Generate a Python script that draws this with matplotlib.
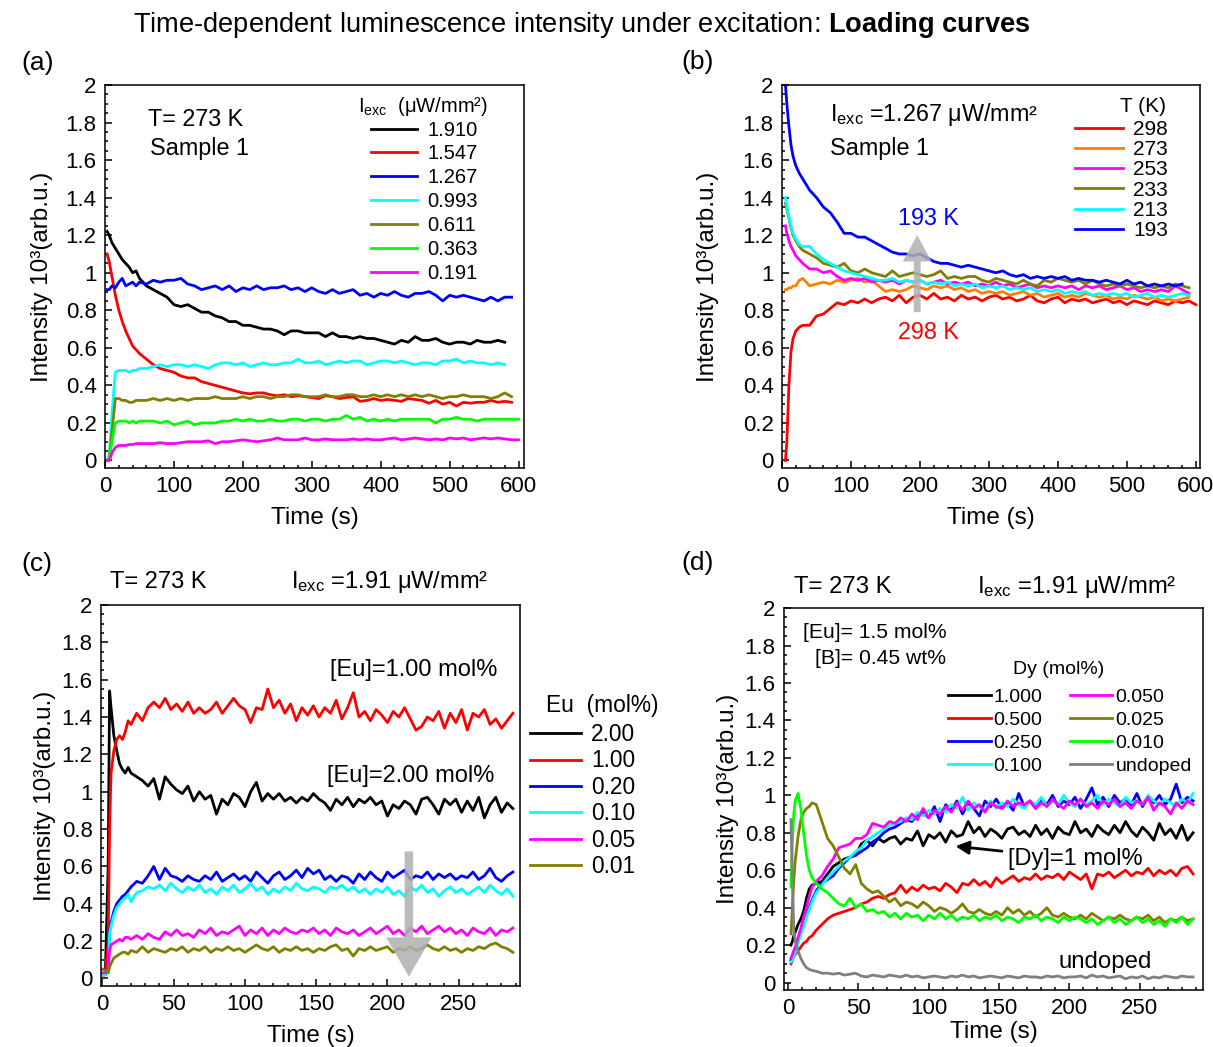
import numpy as np
import matplotlib
matplotlib.use('Agg')
import matplotlib.pyplot as plt
from matplotlib.ticker import MultipleLocator, FormatStrFormatter

plt.rcParams['font.family'] = ['Liberation Sans', 'DejaVu Sans']
plt.rcParams['mathtext.fontset'] = 'custom'
plt.rcParams['mathtext.rm'] = 'Liberation Sans'
plt.rcParams['mathtext.it'] = 'Liberation Sans:italic'
plt.rcParams['mathtext.bf'] = 'Liberation Sans:bold'

nan = np.nan

# ---------------- panel (a): excitation power, T = 273 K ----------------
t_a = [3, 6, 10, 15, 20, 25, 30, 35, 40, 45, 50] + list(range(60, 601, 10))
labels_a = ['1.910', '1.547', '1.267', '0.993', '0.611', '0.363', '0.191']
colors_a = ['black', '#ff0000', '#0000ff', '#00ffff', '#808000', '#00ff00', '#ff00ff']
a_1910 = [1.22, 1.20, 1.16, 1.13, 1.10, 1.07, 1.05, 1.03, 1.00, 1.01, 0.97,
          0.93, 0.91, 0.89, 0.87, 0.83, 0.82, 0.83, 0.81, 0.79, 0.79,
          0.77, 0.76, 0.74, 0.74, 0.72, 0.72, 0.71, 0.70, 0.70, 0.69,
          0.67, 0.69, 0.69, 0.68, 0.68, 0.68, 0.66, 0.68, 0.66, 0.66,
          0.65, 0.66, 0.65, 0.65, 0.64, 0.63, 0.62, 0.64, 0.63, 0.66,
          0.64, 0.64, 0.65, 0.63, 0.62, 0.63, 0.63, 0.62, 0.64, 0.63,
          0.63, 0.64, 0.63, nan, nan]
a_1547 = [1.10, 1.06, 0.98, 0.88, 0.80, 0.74, 0.69, 0.65, 0.61, 0.59, 0.57,
          0.54, 0.51, 0.49, 0.48, 0.47, 0.45, 0.44, 0.44, 0.42, 0.41,
          0.40, 0.39, 0.38, 0.37, 0.36, 0.355, 0.36, 0.36, 0.35, 0.345,
          0.35, 0.34, 0.345, 0.34, 0.335, 0.33, 0.345, 0.34, 0.33, 0.335,
          0.34, 0.315, 0.32, 0.33, 0.32, 0.325, 0.32, 0.315, 0.33, 0.325,
          0.32, 0.305, 0.32, 0.30, 0.31, 0.29, 0.31, 0.305, 0.31, 0.31,
          0.32, 0.31, 0.315, 0.31, nan]
a_1267 = [0.91, 0.91, 0.93, 0.92, 0.95, 0.97, 0.93, 0.94, 0.95, 0.93, 0.95,
          0.94, 0.96, 0.95, 0.96, 0.96, 0.97, 0.94, 0.93, 0.91, 0.92,
          0.93, 0.91, 0.93, 0.90, 0.92, 0.91, 0.93, 0.91, 0.92, 0.92,
          0.93, 0.91, 0.92, 0.90, 0.92, 0.90, 0.89, 0.91, 0.89, 0.90,
          0.91, 0.88, 0.89, 0.87, 0.89, 0.88, 0.90, 0.88, 0.87, 0.89,
          0.89, 0.90, 0.88, 0.85, 0.88, 0.87, 0.88, 0.87, 0.86, 0.85,
          0.87, 0.85, 0.87, 0.87, nan]
a_0993 = [0.0, 0.02, 0.25, 0.47, 0.48, 0.48, 0.48, 0.47, 0.48, 0.48, 0.49,
          0.49, 0.50, 0.51, 0.50, 0.51, 0.51, 0.50, 0.51, 0.50, 0.49,
          0.51, 0.52, 0.52, 0.51, 0.52, 0.50, 0.51, 0.52, 0.51, 0.51,
          0.52, 0.52, 0.54, 0.52, 0.52, 0.53, 0.51, 0.52, 0.53, 0.52,
          0.53, 0.53, 0.51, 0.52, 0.53, 0.53, 0.52, 0.53, 0.52, 0.51,
          0.52, 0.52, 0.51, 0.53, 0.53, 0.54, 0.52, 0.53, 0.52, 0.52,
          0.51, 0.52, 0.51, nan, nan]
a_0611 = [0.0, 0.01, 0.15, 0.33, 0.33, 0.32, 0.32, 0.31, 0.31, 0.32, 0.32,
          0.32, 0.33, 0.32, 0.33, 0.32, 0.33, 0.32, 0.33, 0.33, 0.33,
          0.34, 0.33, 0.33, 0.33, 0.34, 0.33, 0.34, 0.34, 0.33, 0.34,
          0.34, 0.35, 0.35, 0.34, 0.34, 0.34, 0.35, 0.34, 0.34, 0.35,
          0.35, 0.34, 0.34, 0.35, 0.34, 0.35, 0.34, 0.35, 0.34, 0.35,
          0.34, 0.35, 0.34, 0.33, 0.34, 0.34, 0.35, 0.34, 0.34, 0.34,
          0.33, 0.34, 0.36, 0.34, nan]
a_0363 = [0.0, 0.0, 0.10, 0.20, 0.21, 0.21, 0.21, 0.20, 0.21, 0.20, 0.21,
          0.21, 0.21, 0.20, 0.21, 0.19, 0.20, 0.21, 0.19, 0.20, 0.20,
          0.20, 0.21, 0.21, 0.22, 0.21, 0.22, 0.21, 0.21, 0.22, 0.21,
          0.21, 0.22, 0.22, 0.21, 0.22, 0.22, 0.21, 0.22, 0.22, 0.24,
          0.22, 0.23, 0.21, 0.22, 0.21, 0.22, 0.21, 0.22, 0.22, 0.22,
          0.22, 0.22, 0.20, 0.22, 0.22, 0.23, 0.22, 0.22, 0.21, 0.22,
          0.22, 0.22, 0.22, 0.22, 0.22]
a_0191 = [0.0, 0.0, 0.04, 0.07, 0.08, 0.08, 0.08, 0.085, 0.085, 0.09, 0.09,
          0.09, 0.09, 0.095, 0.09, 0.09, 0.095, 0.10, 0.10, 0.10, 0.105,
          0.09, 0.10, 0.10, 0.105, 0.11, 0.105, 0.10, 0.105, 0.11, 0.12,
          0.11, 0.11, 0.11, 0.12, 0.11, 0.11, 0.115, 0.11, 0.11, 0.11,
          0.115, 0.11, 0.115, 0.11, 0.11, 0.115, 0.12, 0.11, 0.115, 0.12,
          0.115, 0.11, 0.115, 0.11, 0.12, 0.115, 0.12, 0.11, 0.115, 0.12,
          0.115, 0.12, 0.115, 0.11, 0.11]

# ---------------- panel (b): temperature, I = 1.267 ----------------
t_b = [5, 7, 10, 13, 16, 20, 25, 30, 40, 50] + list(range(60, 601, 10))
labels_b = ['298', '273', '253', '233', '213', '193']
colors_b = ['#ff0000', '#ff8000', '#ff00ff', '#808000', '#00ffff', '#0000ff']
b_298 = [0.0, 0.10, 0.40, 0.58, 0.65, 0.69, 0.71, 0.72, 0.72, 0.77,
         0.78, 0.81, 0.84, 0.83, 0.85, 0.84, 0.86, 0.84, 0.86, 0.87,
         0.85, 0.88, 0.84, 0.87, 0.88, 0.86, 0.89, 0.86, 0.87, 0.85,
         0.88, 0.86, 0.87, 0.85, 0.87, 0.88, 0.86, 0.87, 0.85, 0.86,
         0.88, 0.85, 0.84, 0.86, 0.87, 0.84, 0.86, 0.85, 0.86, 0.84,
         0.85, 0.86, 0.84, 0.85, 0.83, 0.85, 0.84, 0.83, 0.85, 0.84,
         0.83, 0.85, 0.84, 0.85, 0.83]
b_273 = [0.91, 0.91, 0.92, 0.92, 0.93, 0.93, 0.96, 0.97, 0.93, 0.94,
         0.95, 0.94, 0.96, 0.95, 0.96, 0.97, 0.95, 0.96, 0.93, 0.90,
         0.91, 0.90, 0.91, 0.93, 0.92, 0.91, 0.93, 0.92, 0.93, 0.91,
         0.92, 0.90, 0.91, 0.89, 0.90, 0.89, 0.90, 0.88, 0.89, 0.90,
         0.88, 0.89, 0.87, 0.88, 0.89, 0.87, 0.88, 0.87, 0.89, 0.88,
         0.87, 0.88, 0.86, 0.87, 0.86, 0.88, 0.87, 0.86, 0.87, 0.85,
         0.86, 0.85, 0.86, 0.87, nan]
b_253 = [1.25, 1.21, 1.17, 1.14, 1.12, 1.09, 1.07, 1.05, 1.02, 1.02,
         1.00, 1.01, 0.98, 0.96, 0.97, 0.96, 0.97, 0.95, 0.96, 0.95,
         0.96, 0.94, 0.96, 0.95, 0.96, 0.94, 0.95, 0.96, 0.94, 0.95,
         0.94, 0.95, 0.93, 0.94, 0.93, 0.95, 0.93, 0.94, 0.92, 0.93,
         0.94, 0.92, 0.93, 0.92, 0.93, 0.92, 0.93, 0.91, 0.93, 0.92,
         0.93, 0.91, 0.92, 0.93, 0.91, 0.92, 0.90, 0.91, 0.90, 0.91,
         0.90, 0.93, 0.91, 0.89, nan]
b_233 = [1.37, 1.34, 1.29, 1.24, 1.20, 1.17, 1.14, 1.12, 1.10, 1.08,
         1.05, 1.04, 1.03, 1.05, 1.01, 1.00, 1.02, 1.00, 0.99, 0.98,
         1.01, 0.98, 0.99, 1.00, 0.99, 0.98, 0.99, 1.01, 0.97, 0.98,
         0.97, 0.98, 0.98, 0.96, 0.95, 0.97, 0.96, 0.95, 0.94, 0.96,
         0.94, 0.93, 0.96, 0.95, 0.97, 0.96, 0.95, 0.96, 0.94, 0.96,
         0.94, 0.93, 0.94, 0.93, 0.94, 0.93, 0.92, 0.93, 0.92, 0.93,
         0.92, 0.94, 0.93, 0.92, nan]
b_213 = [1.40, 1.36, 1.30, 1.25, 1.21, 1.18, 1.15, 1.14, 1.14, 1.10,
         1.07, 1.05, 1.03, 1.01, 1.00, 0.99, 0.98, 0.97, 0.96, 0.96,
         0.97, 0.95, 0.96, 0.95, 0.96, 0.94, 0.95, 0.94, 0.95, 0.93,
         0.94, 0.93, 0.94, 0.92, 0.93, 0.92, 0.93, 0.91, 0.92, 0.91,
         0.92, 0.90, 0.91, 0.90, 0.91, 0.89, 0.90, 0.89, 0.90, 0.88,
         0.89, 0.88, 0.89, 0.88, 0.89, 0.87, 0.88, 0.89, 0.87, 0.88,
         0.87, 0.88, 0.89, 0.88, nan]
b_193 = [2.00, 1.90, 1.78, 1.68, 1.62, 1.57, 1.53, 1.50, 1.44, 1.40,
         1.35, 1.32, 1.27, 1.21, 1.21, 1.19, 1.19, 1.17, 1.15, 1.13,
         1.11, 1.10, 1.10, 1.09, 1.10, 1.08, 1.06, 1.05, 1.05, 1.04,
         1.03, 1.04, 1.03, 1.02, 1.01, 1.00, 1.01, 0.99, 0.98, 0.99,
         0.97, 0.98, 0.97, 0.98, 0.97, 0.98, 0.96, 0.97, 0.96, 0.96,
         0.95, 0.96, 0.95, 0.94, 0.96, 0.94, 0.95, 0.93, 0.94, 0.93,
         0.94, 0.93, 0.94, nan, nan]

# ---------------- panel (c): Eu content ----------------
t_c = [0, 2, 4, 5, 6, 8, 10, 12, 14, 16, 18, 20] + list(range(24, 289, 4))
labels_c = ['2.00', '1.00', '0.20', '0.10', '0.05', '0.01']
colors_c = ['black', '#ff0000', '#0000ff', '#00ffff', '#ff00ff', '#808000']
c_200 = [0.02, 0.02, 0.60, 1.54, 1.45, 1.30, 1.22, 1.15, 1.12, 1.10, 1.13, 1.10,
         1.08, 1.06, 1.03, 1.07, 0.96, 1.08, 1.04, 1.01, 0.99, 1.03,
         0.95, 1.00, 0.96, 0.98, 0.88, 0.96, 0.93, 0.99, 0.97, 0.92,
         1.00, 1.05, 0.95, 0.99, 0.96, 0.99, 0.95, 0.97, 0.94, 0.97,
         0.95, 0.99, 0.96, 0.94, 0.90, 0.96, 0.93, 0.97, 0.92, 0.96,
         0.94, 0.97, 0.93, 0.95, 0.87, 0.93, 0.91, 0.95, 0.93, 0.88,
         0.96, 0.97, 0.93, 0.88, 0.96, 0.93, 0.96, 0.89, 0.95, 0.90,
         0.97, 0.86, 0.93, 0.97, 0.89, 0.94, 0.91]
c_100 = [0.02, 0.02, 0.20, 0.80, 1.10, 1.22, 1.28, 1.30, 1.28, 1.32, 1.38, 1.36,
         1.42, 1.38, 1.45, 1.48, 1.45, 1.50, 1.44, 1.47, 1.43, 1.48,
         1.42, 1.45, 1.42, 1.44, 1.48, 1.42, 1.46, 1.50, 1.46, 1.44,
         1.37, 1.45, 1.44, 1.55, 1.45, 1.49, 1.42, 1.47, 1.38, 1.45,
         1.41, 1.46, 1.40, 1.45, 1.42, 1.49, 1.39, 1.45, 1.53, 1.40,
         1.43, 1.38, 1.44, 1.41, 1.37, 1.43, 1.40, 1.45, 1.39, 1.33,
         1.35, 1.40, 1.38, 1.43, 1.34, 1.42, 1.37, 1.44, 1.33, 1.42,
         1.40, 1.44, 1.36, 1.39, 1.34, 1.38, 1.42]
c_020 = [0.02, 0.02, 0.05, 0.25, 0.30, 0.36, 0.40, 0.42, 0.44, 0.45, 0.47, 0.49,
         0.52, 0.51, 0.55, 0.60, 0.53, 0.59, 0.55, 0.54, 0.52, 0.55,
         0.53, 0.52, 0.55, 0.53, 0.57, 0.52, 0.54, 0.56, 0.53, 0.55,
         0.52, 0.57, 0.54, 0.51, 0.55, 0.57, 0.53, 0.55, 0.58, 0.54,
         0.59, 0.56, 0.58, 0.53, 0.55, 0.52, 0.55, 0.54, 0.51, 0.56,
         0.53, 0.57, 0.54, 0.52, 0.57, 0.54, 0.56, 0.58, 0.53, 0.55,
         0.54, 0.57, 0.53, 0.56, 0.54, 0.56, 0.53, 0.55, 0.54, 0.57,
         0.53, 0.55, 0.59, 0.54, 0.52, 0.55, 0.57]
c_010 = [0.02, 0.02, 0.05, 0.24, 0.28, 0.34, 0.38, 0.40, 0.42, 0.43, 0.45, 0.41,
         0.46, 0.47, 0.49, 0.48, 0.50, 0.47, 0.51, 0.48, 0.46, 0.49,
         0.47, 0.50, 0.46, 0.48, 0.45, 0.49, 0.47, 0.50, 0.46, 0.48,
         0.51, 0.47, 0.49, 0.45, 0.48, 0.46, 0.49, 0.47, 0.51, 0.48,
         0.47, 0.49, 0.48, 0.46, 0.49, 0.48, 0.50, 0.47, 0.49, 0.46,
         0.48, 0.45, 0.48, 0.46, 0.49, 0.45, 0.47, 0.44, 0.49, 0.47,
         0.50, 0.46, 0.48, 0.44, 0.47, 0.49, 0.46, 0.48, 0.45, 0.47,
         0.49, 0.46, 0.50, 0.47, 0.45, 0.48, 0.44]
c_005 = [0.03, 0.03, 0.05, 0.15, 0.18, 0.19, 0.20, 0.21, 0.20, 0.22, 0.22, 0.21,
         0.23, 0.21, 0.24, 0.22, 0.21, 0.25, 0.23, 0.26, 0.23, 0.24,
         0.22, 0.26, 0.24, 0.27, 0.23, 0.25, 0.24, 0.26, 0.28, 0.23,
         0.26, 0.24, 0.27, 0.23, 0.26, 0.24, 0.27, 0.25, 0.24, 0.26,
         0.25, 0.27, 0.24, 0.26, 0.23, 0.27, 0.25, 0.24, 0.26, 0.23,
         0.25, 0.27, 0.24, 0.26, 0.28, 0.24, 0.26, 0.23, 0.27, 0.25,
         0.28, 0.24, 0.26, 0.28, 0.25, 0.27, 0.24, 0.26, 0.23, 0.27,
         0.25, 0.24, 0.27, 0.23, 0.26, 0.25, 0.27]
c_001 = [0.05, 0.04, 0.03, 0.06, 0.08, 0.11, 0.12, 0.13, 0.14, 0.14, 0.13, 0.15,
         0.14, 0.17, 0.14, 0.16, 0.15, 0.14, 0.16, 0.15, 0.17, 0.14,
         0.16, 0.15, 0.17, 0.14, 0.16, 0.15, 0.17, 0.15, 0.16, 0.14,
         0.16, 0.18, 0.16, 0.15, 0.17, 0.14, 0.16, 0.15, 0.17, 0.15,
         0.16, 0.14, 0.16, 0.15, 0.17, 0.18, 0.15, 0.16, 0.12, 0.16,
         0.15, 0.17, 0.15, 0.16, 0.17, 0.14, 0.16, 0.15, 0.17, 0.15,
         0.16, 0.18, 0.16, 0.15, 0.17, 0.15, 0.16, 0.14, 0.16, 0.15,
         0.17, 0.16, 0.18, 0.19, 0.17, 0.16, 0.14]

# ---------------- panel (d): Dy content ----------------
t_d = [2, 3, 4, 5, 7, 9, 11, 13, 15, 17, 20] + list(range(24, 289, 4))
labels_d = ['1.000', '0.500', '0.250', '0.100', '0.050', '0.025', '0.010', 'undoped']
colors_d = ['black', '#ff0000', '#0000ff', '#00ffff', '#ff00ff', '#808000', '#00ff00', '#808080']
d_1000 = [0.20, 0.22, 0.25, 0.27, 0.31, 0.34, 0.38, 0.45, 0.50, 0.52, 0.53,
          0.54, 0.58, 0.62, 0.64, 0.66, 0.67, 0.68, 0.74, 0.76, 0.73,
          0.77, 0.75, 0.77, 0.78, 0.74, 0.77, 0.76, 0.81, 0.73, 0.79,
          0.77, 0.80, 0.75, 0.81, 0.78, 0.79, 0.86, 0.80, 0.83, 0.78,
          0.82, 0.80, 0.77, 0.82, 0.83, 0.79, 0.81, 0.78, 0.84, 0.79,
          0.82, 0.77, 0.83, 0.80, 0.79, 0.86, 0.80, 0.82, 0.78, 0.84,
          0.81, 0.79, 0.84, 0.80, 0.86, 0.81, 0.78, 0.83, 0.80, 0.76,
          0.85, 0.79, 0.82, 0.77, 0.84, 0.76, 0.80]
d_0500 = [0.10, 0.12, 0.14, 0.15, 0.17, 0.19, 0.21, 0.22, 0.24, 0.25, 0.28,
          0.31, 0.34, 0.36, 0.37, 0.38, 0.39, 0.40, 0.42, 0.43, 0.45,
          0.46, 0.45, 0.47, 0.48, 0.52, 0.48, 0.51, 0.49, 0.52, 0.50,
          0.51, 0.49, 0.53, 0.51, 0.48, 0.53, 0.52, 0.55, 0.52, 0.54,
          0.51, 0.56, 0.53, 0.55, 0.57, 0.54, 0.56, 0.55, 0.58, 0.55,
          0.57, 0.56, 0.58, 0.55, 0.59, 0.57, 0.55, 0.58, 0.50, 0.58,
          0.57, 0.59, 0.56, 0.58, 0.60, 0.57, 0.59, 0.58, 0.61, 0.57,
          0.60, 0.58, 0.60, 0.57, 0.61, 0.62, 0.58]
d_0250 = [0.12, 0.13, 0.15, 0.17, 0.22, 0.27, 0.31, 0.36, 0.40, 0.44, 0.49,
          0.53, 0.55, 0.57, 0.61, 0.64, 0.67, 0.68, 0.70, 0.72, 0.75,
          0.77, 0.80, 0.82, 0.83, 0.85, 0.87, 0.86, 0.90, 0.91, 0.88,
          0.94, 0.86, 0.95, 0.92, 0.97, 0.90, 0.96, 0.93, 0.89, 0.97,
          0.94, 0.98, 0.93, 0.96, 0.92, 1.01, 0.94, 0.97, 0.93, 0.98,
          0.95, 1.00, 0.94, 0.97, 0.95, 0.99, 0.93, 0.98, 1.04, 0.95,
          0.99, 0.94, 1.00, 0.96, 0.98, 0.95, 1.01, 0.94, 0.99, 0.96,
          1.00, 0.95, 0.98, 1.06, 0.96, 0.99, 0.97]
d_0100 = [0.11, 0.12, 0.14, 0.16, 0.21, 0.26, 0.30, 0.35, 0.39, 0.43, 0.48,
          0.52, 0.56, 0.59, 0.62, 0.65, 0.67, 0.70, 0.72, 0.76, 0.78,
          0.80, 0.82, 0.84, 0.85, 0.86, 0.88, 0.87, 0.91, 0.89, 0.92,
          0.90, 0.93, 0.91, 0.95, 0.93, 0.99, 0.92, 0.96, 0.94, 0.92,
          0.97, 0.93, 0.96, 0.94, 0.98, 0.95, 0.93, 0.97, 0.95, 0.99,
          0.94, 0.97, 0.95, 1.00, 0.96, 0.94, 0.98, 0.95, 0.97, 1.00,
          0.95, 0.98, 0.96, 0.94, 0.99, 0.96, 0.97, 0.95, 1.00, 0.97,
          0.95, 0.98, 0.96, 0.94, 0.98, 0.96, 1.01]
d_0050 = [0.13, 0.15, 0.17, 0.19, 0.24, 0.29, 0.35, 0.40, 0.46, 0.51, 0.54,
          0.57, 0.62, 0.66, 0.72, 0.73, 0.74, 0.77, 0.77, 0.79, 0.85,
          0.84, 0.83, 0.86, 0.85, 0.88, 0.86, 0.90, 0.87, 0.93, 0.88,
          0.92, 0.90, 0.94, 0.91, 0.96, 0.92, 0.97, 0.93, 0.95, 0.91,
          0.96, 0.94, 0.93, 0.97, 0.94, 0.96, 0.95, 0.97, 0.93, 0.96,
          0.94, 0.98, 0.95, 0.93, 0.97, 0.95, 0.98, 0.94, 0.96, 0.93,
          0.97, 0.95, 0.98, 0.94, 0.96, 0.93, 0.97, 0.95, 0.99, 0.92,
          0.96, 0.94, 0.90, 0.96, 0.93, 0.97, 0.95]
d_0025 = [0.26, 0.40, 0.55, 0.65, 0.78, 0.87, 0.91, 0.93, 0.94, 0.96, 0.95,
          0.86, 0.77, 0.73, 0.67, 0.61, 0.58, 0.63, 0.53, 0.50, 0.48,
          0.49, 0.46, 0.43, 0.45, 0.41, 0.43, 0.42, 0.40, 0.43, 0.41,
          0.38, 0.40, 0.39, 0.37, 0.39, 0.42, 0.38, 0.37, 0.39, 0.37,
          0.36, 0.38, 0.36, 0.40, 0.37, 0.39, 0.36, 0.38, 0.35, 0.37,
          0.40, 0.36, 0.35, 0.37, 0.35, 0.34, 0.36, 0.34, 0.37, 0.35,
          0.33, 0.35, 0.34, 0.36, 0.34, 0.33, 0.35, 0.34, 0.36, 0.33,
          0.35, 0.32, 0.34, 0.33, 0.35, 0.33, 0.34]
d_0010 = [0.51, 0.75, 0.90, 0.97, 1.01, 0.93, 0.80, 0.68, 0.60, 0.56, 0.53,
          0.50, 0.48, 0.45, 0.42, 0.41, 0.45, 0.40, 0.42, 0.38, 0.39,
          0.37, 0.38, 0.35, 0.37, 0.34, 0.37, 0.35, 0.36, 0.33, 0.36,
          0.34, 0.37, 0.34, 0.36, 0.33, 0.35, 0.34, 0.36, 0.33, 0.35,
          0.34, 0.36, 0.33, 0.35, 0.34, 0.32, 0.35, 0.34, 0.36, 0.33,
          0.35, 0.34, 0.32, 0.35, 0.33, 0.35, 0.34, 0.32, 0.34, 0.31,
          0.33, 0.35, 0.32, 0.34, 0.31, 0.33, 0.35, 0.32, 0.34, 0.31,
          0.33, 0.30, 0.34, 0.32, 0.35, 0.31, 0.34]
d_undoped = [0.87, 0.55, 0.28, 0.22, 0.17, 0.13, 0.10, 0.08, 0.07, 0.065, 0.06,
             0.05, 0.05, 0.045, 0.05, 0.04, 0.045, 0.05, 0.035, 0.03, 0.04,
             0.035, 0.03, 0.04, 0.035, 0.03, 0.04, 0.03, 0.035, 0.025, 0.03,
             0.035, 0.03, 0.025, 0.035, 0.03, 0.04, 0.03, 0.035, 0.025, 0.03,
             0.035, 0.03, 0.025, 0.035, 0.03, 0.025, 0.035, 0.03, 0.03, 0.025,
             0.035, 0.03, 0.035, 0.025, 0.03, 0.03, 0.035, 0.025, 0.04, 0.03,
             0.035, 0.025, 0.03, 0.035, 0.02, 0.03, 0.025, 0.035, 0.02, 0.03,
             0.025, 0.035, 0.03, 0.025, 0.035, 0.03, 0.03]

series_a = [a_1910, a_1547, a_1267, a_0993, a_0611, a_0363, a_0191]
series_b = [b_298, b_273, b_253, b_233, b_213, b_193]
series_c = [c_200, c_100, c_020, c_010, c_005, c_001]
series_d = [d_1000, d_0500, d_0250, d_0100, d_0050, d_0025, d_0010, d_undoped]

TICK_FS = 16
LABEL_FS = 17.5
TEXT_FS = 16.8
LW = 2.0
ylab = 'Intensity 10³(arb.u.)'
iexc = r'I$_{\rm exc}$'


def style(ax, xmaj, xmin, xlim, ypad, xpad=7):
    ax.set_xlim(*xlim)
    ax.set_ylim(-0.04, 2.0)
    ax.xaxis.set_major_locator(MultipleLocator(xmaj))
    ax.xaxis.set_minor_locator(MultipleLocator(xmin))
    ax.yaxis.set_major_locator(MultipleLocator(0.2))
    ax.yaxis.set_minor_locator(MultipleLocator(0.05))
    ax.yaxis.set_major_formatter(FormatStrFormatter('%g'))
    ax.tick_params(which='both', direction='in', top=False, right=False,
                   labelsize=TICK_FS, width=1.1, pad=6)
    ax.tick_params(which='major', length=5)
    ax.tick_params(which='minor', length=2.5)
    for sp in ax.spines.values():
        sp.set_linewidth(1.1)
    ax.set_xlabel('Time (s)', fontsize=LABEL_FS, labelpad=xpad)
    ax.set_ylabel(ylab, fontsize=LABEL_FS, labelpad=ypad)


def legend(ax, x, y, fs, spacing, **kw):
    ax.legend(loc='upper left', bbox_to_anchor=(x, y), frameon=False, fontsize=fs,
              labelspacing=spacing, borderpad=0, borderaxespad=0, **kw)


fig = plt.figure(figsize=(12.13, 10.47), dpi=100)
ax_a = fig.add_axes([0.0866, 0.5530, 0.3454, 0.3658])
ax_b = fig.add_axes([0.6447, 0.5530, 0.3446, 0.3658])
ax_c = fig.add_axes([0.0833, 0.0583, 0.3454, 0.3639])
ax_d = fig.add_axes([0.6463, 0.0544, 0.3454, 0.3648])

fig.text(0.48, 0.976, r'Time-dependent luminescence intensity under excitation: $\bf{Loading\ curves}$',
         ha='center', va='center', fontsize=19.6)
fig.text(0.0173, 0.940, '(a)', fontsize=19, va='center')
fig.text(0.562, 0.941, '(b)', fontsize=19, va='center')
fig.text(0.0173, 0.461, '(c)', fontsize=19, va='center')
fig.text(0.562, 0.462, '(d)', fontsize=19, va='center')

# (a)
for y, lab, col in zip(series_a, labels_a, colors_a):
    ax_a.plot(t_a, y, color=col, lw=LW, label=lab)
style(ax_a, 100, 20, (0, 608), 9)
ax_a.text(0.103, 0.909, 'T= 273 K', transform=ax_a.transAxes, fontsize=TEXT_FS, va='center')
ax_a.text(0.107, 0.833, 'Sample 1', transform=ax_a.transAxes, fontsize=TEXT_FS, va='center')
ax_a.text(0.759, 0.943, iexc + '  (μW/mm²)', transform=ax_a.transAxes, fontsize=14.5,
          ha='center', va='center')
legend(ax_a, 0.635, 0.907, 14.5, 0.24, handlelength=2.3, handletextpad=0.5)

# (b)
for y, lab, col in zip(series_b, labels_b, colors_b):
    ax_b.plot(t_b, y, color=col, lw=LW, label=lab)
style(ax_b, 100, 20, (0, 606), 17)
ax_b.arrow(196, 0.79, 0, 0.41, width=10, head_width=42, head_length=0.14,
           length_includes_head=True, color='#b0b0b0', alpha=0.85, lw=0, zorder=5)
ax_b.text(212, 1.29, '193 K', color='#0000ff', fontsize=TEXT_FS, ha='center', va='center')
ax_b.text(212, 0.68, '298 K', color='#ff0000', fontsize=TEXT_FS, ha='center', va='center')
ax_b.text(0.115, 0.922, iexc + ' =1.267 μW/mm²', transform=ax_b.transAxes, fontsize=TEXT_FS, va='center')
ax_b.text(0.115, 0.833, 'Sample 1', transform=ax_b.transAxes, fontsize=TEXT_FS, va='center')
ax_b.text(0.864, 0.945, 'T (K)', transform=ax_b.transAxes, fontsize=15, ha='center', va='center')
legend(ax_b, 0.70, 0.909, 15, 0.06, handlelength=2.3, handletextpad=0.5)

# (c)
for y, lab, col in zip(series_c, labels_c, colors_c):
    ax_c.plot(t_c, y, color=col, lw=LW, label=lab)
style(ax_c, 50, 10, (-1, 293), 4)
ax_c.arrow(215, 0.68, 0, -0.67, width=6, head_width=32, head_length=0.21,
           length_includes_head=True, color='#b0b0b0', alpha=0.85, lw=0, zorder=5)
ax_c.text(0.136, 1.060, 'T= 273 K', transform=ax_c.transAxes, fontsize=17, ha='center', va='center')
ax_c.text(0.453, 1.060, iexc + ' =1.91 μW/mm²', transform=ax_c.transAxes, fontsize=17, va='center')
ax_c.text(0.947, 0.829, '[Eu]=1.00 mol%', transform=ax_c.transAxes, fontsize=17, ha='right', va='center')
ax_c.text(0.940, 0.551, '[Eu]=2.00 mol%', transform=ax_c.transAxes, fontsize=17, ha='right', va='center')
ax_c.text(1.196, 0.735, 'Eu  (mol%)', transform=ax_c.transAxes, fontsize=16.4, ha='center', va='center')
legend(ax_c, 1.025, 0.690, 16.4, 0.15, handlelength=2.2, handletextpad=0.45)

# (d)
for y, lab, col in zip(series_d, labels_d, colors_d):
    ax_d.plot(t_d, y, color=col, lw=LW, label=lab)
style(ax_d, 50, 10, (-3, 295), 4, xpad=1)
ax_d.text(0.141, 1.055, 'T= 273 K', transform=ax_d.transAxes, fontsize=17.2, ha='center', va='center')
ax_d.text(0.461, 1.055, iexc + ' =1.91 μW/mm²', transform=ax_d.transAxes, fontsize=17.2, va='center')
ax_d.text(0.045, 0.935, '[Eu]= 1.5 mol%', transform=ax_d.transAxes, fontsize=15.2, va='center')
ax_d.text(0.074, 0.869, '[B]= 0.45 wt%', transform=ax_d.transAxes, fontsize=15.2, va='center')
ax_d.text(0.766, 0.073, 'undoped', transform=ax_d.transAxes, fontsize=17.3, ha='center', va='center')
ax_d.annotate('[Dy]=1 mol%', xy=(117, 0.73), xytext=(156, 0.66), fontsize=17,
              ha='left', va='center',
              arrowprops=dict(arrowstyle='-|>', color='black', lw=2, mutation_scale=20))
ax_d.text(0.656, 0.838, 'Dy (mol%)', transform=ax_d.transAxes, fontsize=14, ha='center', va='center')
legend(ax_d, 0.391, 0.79, 14, 0.28, ncol=2, handlelength=2.2, handletextpad=0.15,
       columnspacing=1.4)

fig.savefig('out.png', dpi=100)
